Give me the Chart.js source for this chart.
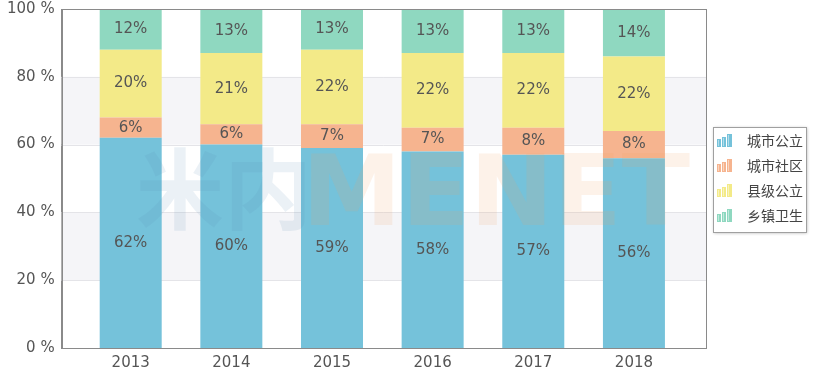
<!DOCTYPE html>
<html><head><meta charset="utf-8">
<script src="https://cdn.jsdelivr.net/npm/chart.js@4"></script>
<style>html,body{margin:0;padding:0;background:#fff}#wrap{width:823px;height:378px}</style>
</head><body><div id="wrap"><canvas id="c" width="823" height="378"></canvas></div>
<script>
const years = ['2013','2014','2015','2016','2017','2018'];
const seriesNames = ['城市公立','城市社区','县级公立','乡镇卫生'];
const cityPublic = [62,60,59,58,57,56];
const cityCommunity = [6,6,7,7,8,8];
const countyPublic = [20,21,22,22,22,22];
const townHealth = [12,13,13,13,13,14];
const yTicks = [0,20,40,60,80,100];
const colors = ['#75c2da','#f6b48f','#f3ea88','#8fd8c0'];

function drawIcon(g,x,y,col){
  g.fillStyle=col;
  g.fillRect(x,y+6,4,8);g.fillRect(x+5,y+4,4,10);g.fillRect(x+10,y+1,5,13);
  g.fillStyle='rgba(255,255,255,0.45)';
  g.fillRect(x+1,y+7,1,6);g.fillRect(x+6,y+5,1,8);g.fillRect(x+11,y+2,1,11);
}

const bands={id:'bands',beforeDatasetsDraw(ch){
  const {ctx,chartArea:a,scales:{y}}=ch;
  ctx.save();ctx.fillStyle='#f5f5f8';
  [[20,40],[60,80]].forEach(([lo,hi])=>{
    const t=y.getPixelForValue(hi),b=y.getPixelForValue(lo);
    ctx.fillRect(a.left,t,a.right-a.left,b-t);
  });
  ctx.strokeStyle='#e4e4e8';ctx.lineWidth=1;
  [20,40,60,80].forEach(v=>{const p=Math.round(y.getPixelForValue(v))+0.5;ctx.beginPath();ctx.moveTo(a.left,p);ctx.lineTo(a.right,p);ctx.stroke();});
  ctx.restore();
},
afterDatasetsDraw(ch){
  const {ctx,chartArea:a}=ch;
  ctx.save();
  ctx.textBaseline='alphabetic';
  ctx.font='bold 88px "Noto Sans CJK SC"';
  ctx.globalAlpha=0.12;ctx.fillStyle='#5a8fb8';
  ctx.fillText('米内',136,222);
  ctx.globalAlpha=0.14;ctx.fillStyle='#f4a060';
  ctx.font='bold 98px "DejaVu Sans"';
  const w=ctx.measureText('MENET').width;
  ctx.translate(302,225);ctx.scale(388/w,1);
  ctx.fillText('MENET',0,0);
  ctx.restore();
  // labels
  ctx.save();ctx.font='15px "DejaVu Sans"';ctx.fillStyle='#555';ctx.textAlign='center';ctx.textBaseline='middle';
  ch.data.datasets.forEach((ds,i)=>{
    const meta=ch.getDatasetMeta(i);
    meta.data.forEach((el,j)=>{
      const top=Math.max(el.y,a.top),bot=el.base;
      ctx.fillText(ds.data[j]+'%',el.x,(top+bot)/2);
    });
  });
  ctx.restore();
  // border
  ctx.save();ctx.strokeStyle='#8a8a8a';ctx.lineWidth=1;
  ctx.strokeRect(Math.round(a.left)+0.5,Math.round(a.top)+0.5,Math.round(a.right-a.left),Math.round(a.bottom-a.top));
  ctx.restore();
},
afterDraw(ch){
  const ctx=ch.ctx;
  ctx.save();
  ctx.fillStyle='#fff';
  ctx.shadowColor='rgba(0,0,0,0.3)';ctx.shadowBlur=3;ctx.shadowOffsetX=1;ctx.shadowOffsetY=1;
  ctx.fillRect(713,127,93,105);
  ctx.restore();
  ctx.save();
  ctx.strokeStyle='#a0a0a0';ctx.lineWidth=1;
  ctx.strokeRect(713.5,127.5,93,105);
  ctx.font='14px "Noto Sans CJK SC"';ctx.fillStyle='#444';ctx.textBaseline='middle';
  const rows=[140,165,190,215];
  ch.data.datasets.forEach((ds,i)=>{
    drawIcon(ctx,717,rows[i]-7,colors[i]);
    ctx.fillStyle='#444';
    ctx.fillText(ds.label,747,rows[i]+1);
  });
  ctx.restore();
}};

new Chart(document.getElementById('c'),{
  type:'bar',
  data:{labels:years,datasets:[cityPublic,cityCommunity,countyPublic,townHealth].map((d,i)=>({
    label:seriesNames[i],data:d,backgroundColor:colors[i],borderWidth:0,
    barPercentage:0.616,categoryPercentage:1}))},
  plugins:[bands],
  options:{
    responsive:false,animation:false,
    layout:{padding:{top:0,right:117,left:0,bottom:0}},
    plugins:{tooltip:{enabled:false},legend:{display:false}},
    scales:{
      x:{stacked:true,grid:{display:false,drawTicks:false},border:{color:'#8a8a8a'},
         ticks:{font:{family:'"DejaVu Sans"',size:15},color:'#555',padding:6},
         afterTickToLabelConversion(s){s._startValue=-0.686;s._endValue=5.716;s._valueRange=6.402;},
         afterFit(s){s.height=30;s.paddingLeft=0;s.paddingRight=0;}},
      y:{stacked:true,min:0,max:100,afterBuildTicks(s){s.ticks=yTicks.map(v=>({value:v}));},
         grid:{display:false,drawTicks:false},border:{color:'#8a8a8a'},
         ticks:{font:{family:'"DejaVu Sans"',size:15},color:'#555',padding:7,callback:v=>v+' %'},
         afterFit(s){s.paddingTop=9;s.paddingBottom=0;}}
    }
  }
});
</script></body></html>
